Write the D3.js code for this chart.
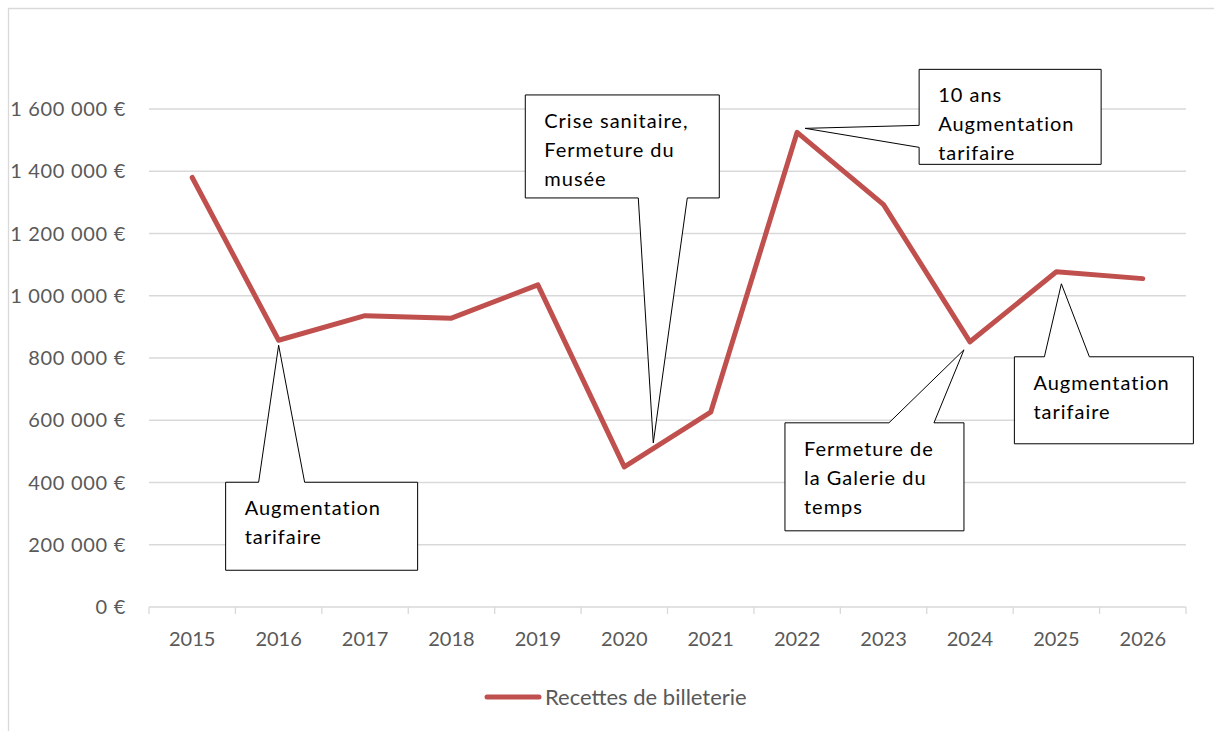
<!DOCTYPE html>
<html>
<head>
<meta charset="utf-8">
<script src="https://cdn.jsdelivr.net/npm/d3@7"></script>
<style>
  body { margin: 0; background: #fff; }
  svg text { font-family: Lato, "Open Sans", sans-serif; }
</style>
</head>
<body>
<div id="chart"></div>
<script>
// data
var years = ["2015","2016","2017","2018","2019","2020","2021","2022","2023","2024","2025","2026"];
var recettes = [1380000, 857000, 936000, 928000, 1035000, 450000, 626000, 1525000, 1293000, 852000, 1077000, 1055000];
var yTicks = [0, 200000, 400000, 600000, 800000, 1000000, 1200000, 1400000, 1600000];
var seriesName = "Recettes de billeterie";

// callouts: anchor year, tip offset from the point, box offset/size, pointer base on an edge
var notes = [
  {year: "2016", lines: ["Augmentation", "tarifaire"], tip: [0, 5], box: [-53, 142, 192, 88], edge: "top", base: [33, 79]},
  {year: "2020", lines: ["Crise sanitaire,", "Fermeture du", "musée"], tip: [29, -24], box: [-99, -372, 194, 103], edge: "bottom", base: [113, 162]},
  {year: "2022", lines: ["10 ans", "Augmentation", "tarifaire"], tip: [8, -4], box: [122, -63, 182, 95], edge: "left", base: [56, 78]},
  {year: "2024", lines: ["Fermeture de", "la Galerie du", "temps"], tip: [-6, 8], box: [-185, 81, 179, 108], edge: "top", base: [104, 149]},
  {year: "2025", lines: ["Augmentation", "tarifaire"], tip: [5, 12], box: [-42, 85, 179, 87], edge: "top", base: [30, 75]}
];

var W = 1214, H = 731;
var margin = {top: 109, right: 28, bottom: 124, left: 149};
var width = W - margin.left - margin.right,
    height = H - margin.top - margin.bottom;

var svg = d3.select("#chart").append("svg")
  .attr("width", W).attr("height", H);

// chart border (only top and left fall inside the picture)
svg.append("path")
  .attr("d", "M8.5," + H + "V8.5H" + W)
  .attr("fill", "none").attr("stroke", "#d9d9d9").attr("stroke-width", 1.3);

var g = svg.append("g")
  .attr("transform", "translate(" + margin.left + "," + margin.top + ")");

var x = d3.scaleBand().domain(years).range([0, width]);
var y = d3.scaleLinear().domain([0, 1600000]).range([height, 0]);

var fmt = function(v) {
  return d3.format(",")(v).replace(/,/g, " ") + " €";
};

// gridlines
g.append("g").selectAll("line")
  .data(yTicks.filter(function(d) { return d > 0; }))
  .enter().append("line")
    .attr("x1", 0).attr("x2", width)
    .attr("y1", function(d) { return y(d); })
    .attr("y2", function(d) { return y(d); })
    .attr("stroke", "#d9d9d9").attr("stroke-width", 1.3);

// y labels
g.append("g").selectAll("text")
  .data(yTicks)
  .enter().append("text")
    .attr("x", -23)
    .attr("y", function(d) { return y(d) + 7; })
    .attr("text-anchor", "end")
    .attr("fill", "#595959")
    .style("font-size", "20px")
    .style("letter-spacing", "0.7px")
    .text(fmt);

// x axis
var xAxis = g.append("g").attr("transform", "translate(0," + height + ")");
xAxis.append("line")
  .attr("x1", 0).attr("x2", width)
  .attr("stroke", "#d9d9d9").attr("stroke-width", 1.3);
xAxis.selectAll(".tick")
  .data(years.concat(["end"]))
  .enter().append("line")
    .attr("x1", function(d, i) { return i * x.step(); })
    .attr("x2", function(d, i) { return i * x.step(); })
    .attr("y1", 0).attr("y2", 7)
    .attr("stroke", "#d9d9d9").attr("stroke-width", 1.3);
xAxis.selectAll("text")
  .data(years)
  .enter().append("text")
    .attr("x", function(d) { return x(d) + x.bandwidth() / 2; })
    .attr("y", 39)
    .attr("text-anchor", "middle")
    .attr("fill", "#595959")
    .style("font-size", "20px")
    .text(function(d) { return d; });

// the line
var pts = years.map(function(d, i) { return {year: d, value: recettes[i]}; });
var line = d3.line()
  .x(function(d) { return x(d.year) + x.bandwidth() / 2; })
  .y(function(d) { return y(d.value); });

g.append("path")
  .datum(pts)
  .attr("d", line)
  .attr("fill", "none")
  .attr("stroke", "#c0504d")
  .attr("stroke-width", 5)
  .attr("stroke-linejoin", "round")
  .attr("stroke-linecap", "round");

// callouts
function calloutPath(n) {
  var i = years.indexOf(n.year);
  var px = x(n.year) + x.bandwidth() / 2, py = y(recettes[i]);
  var tx = px + n.tip[0], ty = py + n.tip[1];
  var bx = px + n.box[0], by = py + n.box[1], bw = n.box[2], bh = n.box[3];
  var p = d3.path();
  p.moveTo(bx, by);
  if (n.edge === "top") {
    p.lineTo(bx + n.base[0], by); p.lineTo(tx, ty); p.lineTo(bx + n.base[1], by);
  }
  p.lineTo(bx + bw, by);
  p.lineTo(bx + bw, by + bh);
  if (n.edge === "bottom") {
    p.lineTo(bx + n.base[1], by + bh); p.lineTo(tx, ty); p.lineTo(bx + n.base[0], by + bh);
  }
  p.lineTo(bx, by + bh);
  if (n.edge === "left") {
    p.lineTo(bx, by + n.base[1]); p.lineTo(tx, ty); p.lineTo(bx, by + n.base[0]);
  }
  p.closePath();
  return {d: p.toString(), bx: bx, by: by};
}

var callouts = g.append("g").selectAll("g")
  .data(notes)
  .enter().append("g");

callouts.each(function(n) {
  var c = calloutPath(n);
  var sel = d3.select(this);
  sel.append("path")
    .attr("d", c.d)
    .attr("fill", "#fff")
    .attr("stroke", "#000")
    .attr("stroke-width", 1)
    .attr("stroke-linejoin", "miter");
  sel.selectAll("text")
    .data(n.lines)
    .enter().append("text")
      .attr("x", c.bx + 19)
      .attr("y", function(d, k) { return c.by + 33 + k * 29; })
      .attr("fill", "#000")
      .style("font-size", "20px")
      .style("letter-spacing", "1px")
      .text(function(d) { return d; });
});

// legend
var leg = svg.append("g").attr("transform", "translate(487,697)");
leg.append("line")
  .attr("x1", 0).attr("x2", 52)
  .attr("stroke", "#c0504d").attr("stroke-width", 5)
  .attr("stroke-linecap", "round");
leg.append("text")
  .attr("x", 58).attr("y", 8)
  .attr("fill", "#595959")
  .style("font-size", "22px")
  .text(seriesName);
</script>
</body>
</html>
